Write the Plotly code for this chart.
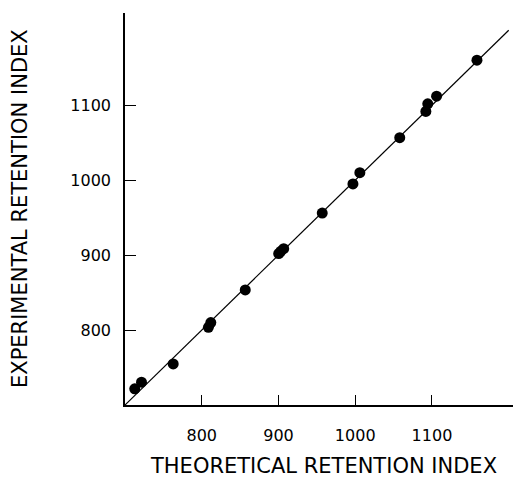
import plotly.graph_objects as go

theoretical = [712.7, 721.5, 762.8, 808.7, 811.8, 856.7, 900.3, 903.0, 906.8,
               957.0, 997.0, 1006.0, 1058.0, 1092.0, 1094.5, 1106.0, 1158.6]
experimental = [721.6, 730.5, 754.8, 803.6, 810.0, 853.5, 902.0, 905.0, 908.5,
                956.0, 995.0, 1010.0, 1056.7, 1091.7, 1101.8, 1112.0, 1160.0]
fit_line = [700, 1200]
tick_vals = [800, 900, 1000, 1100]
tick_text = ["800", "900", "1000", "1100"]
x_title = "THEORETICAL RETENTION INDEX"
y_title = "EXPERIMENTAL RETENTION INDEX"

font_family = "DejaVu Sans"

fig = go.Figure()
fig.add_trace(go.Scatter(x=fit_line, y=fit_line, mode="lines",
                         line=dict(color="black", width=1.2), hoverinfo="skip"))
fig.add_trace(go.Scatter(x=theoretical, y=experimental, mode="markers",
                         marker=dict(color="black", size=11, line=dict(width=0))))

# page body has an 8px default margin, so the figure is sized to fit the window
fig.update_layout(
    width=513, height=469,
    margin=dict(l=117, r=0, t=5, b=72),
    paper_bgcolor="white", plot_bgcolor="white",
    showlegend=False,
    font=dict(family=font_family, color="black"),
    annotations=[
        dict(text=x_title, xref="paper", yref="paper", x=0.5, y=0,
             xanchor="center", yanchor="middle", yshift=-61, showarrow=False,
             font=dict(size=21, family=font_family, color="black")),
        dict(text=y_title, xref="paper", yref="paper", x=0, y=0.5,
             xanchor="center", yanchor="middle", xshift=-105, textangle=-90,
             showarrow=False, font=dict(size=21, family=font_family, color="black")),
    ],
)
fig.update_xaxes(
    range=[700, 1216], tickvals=tick_vals, ticktext=tick_text, automargin=False,
    ticks="inside", ticklen=10, tickwidth=1.3, tickcolor="black",
    showline=True, linecolor="black", linewidth=2, showgrid=False, zeroline=False,
    tickfont=dict(size=16, family=font_family), ticklabelstandoff=15,
)
fig.update_yaxes(
    range=[700, 1223], tickvals=tick_vals, ticktext=tick_text, automargin=False,
    ticks="inside", ticklen=11, tickwidth=1.3, tickcolor="black",
    showline=True, linecolor="black", linewidth=1.5, showgrid=False, zeroline=False,
    tickfont=dict(size=16, family=font_family), ticklabelstandoff=9,
)
fig.write_html("out.html")
